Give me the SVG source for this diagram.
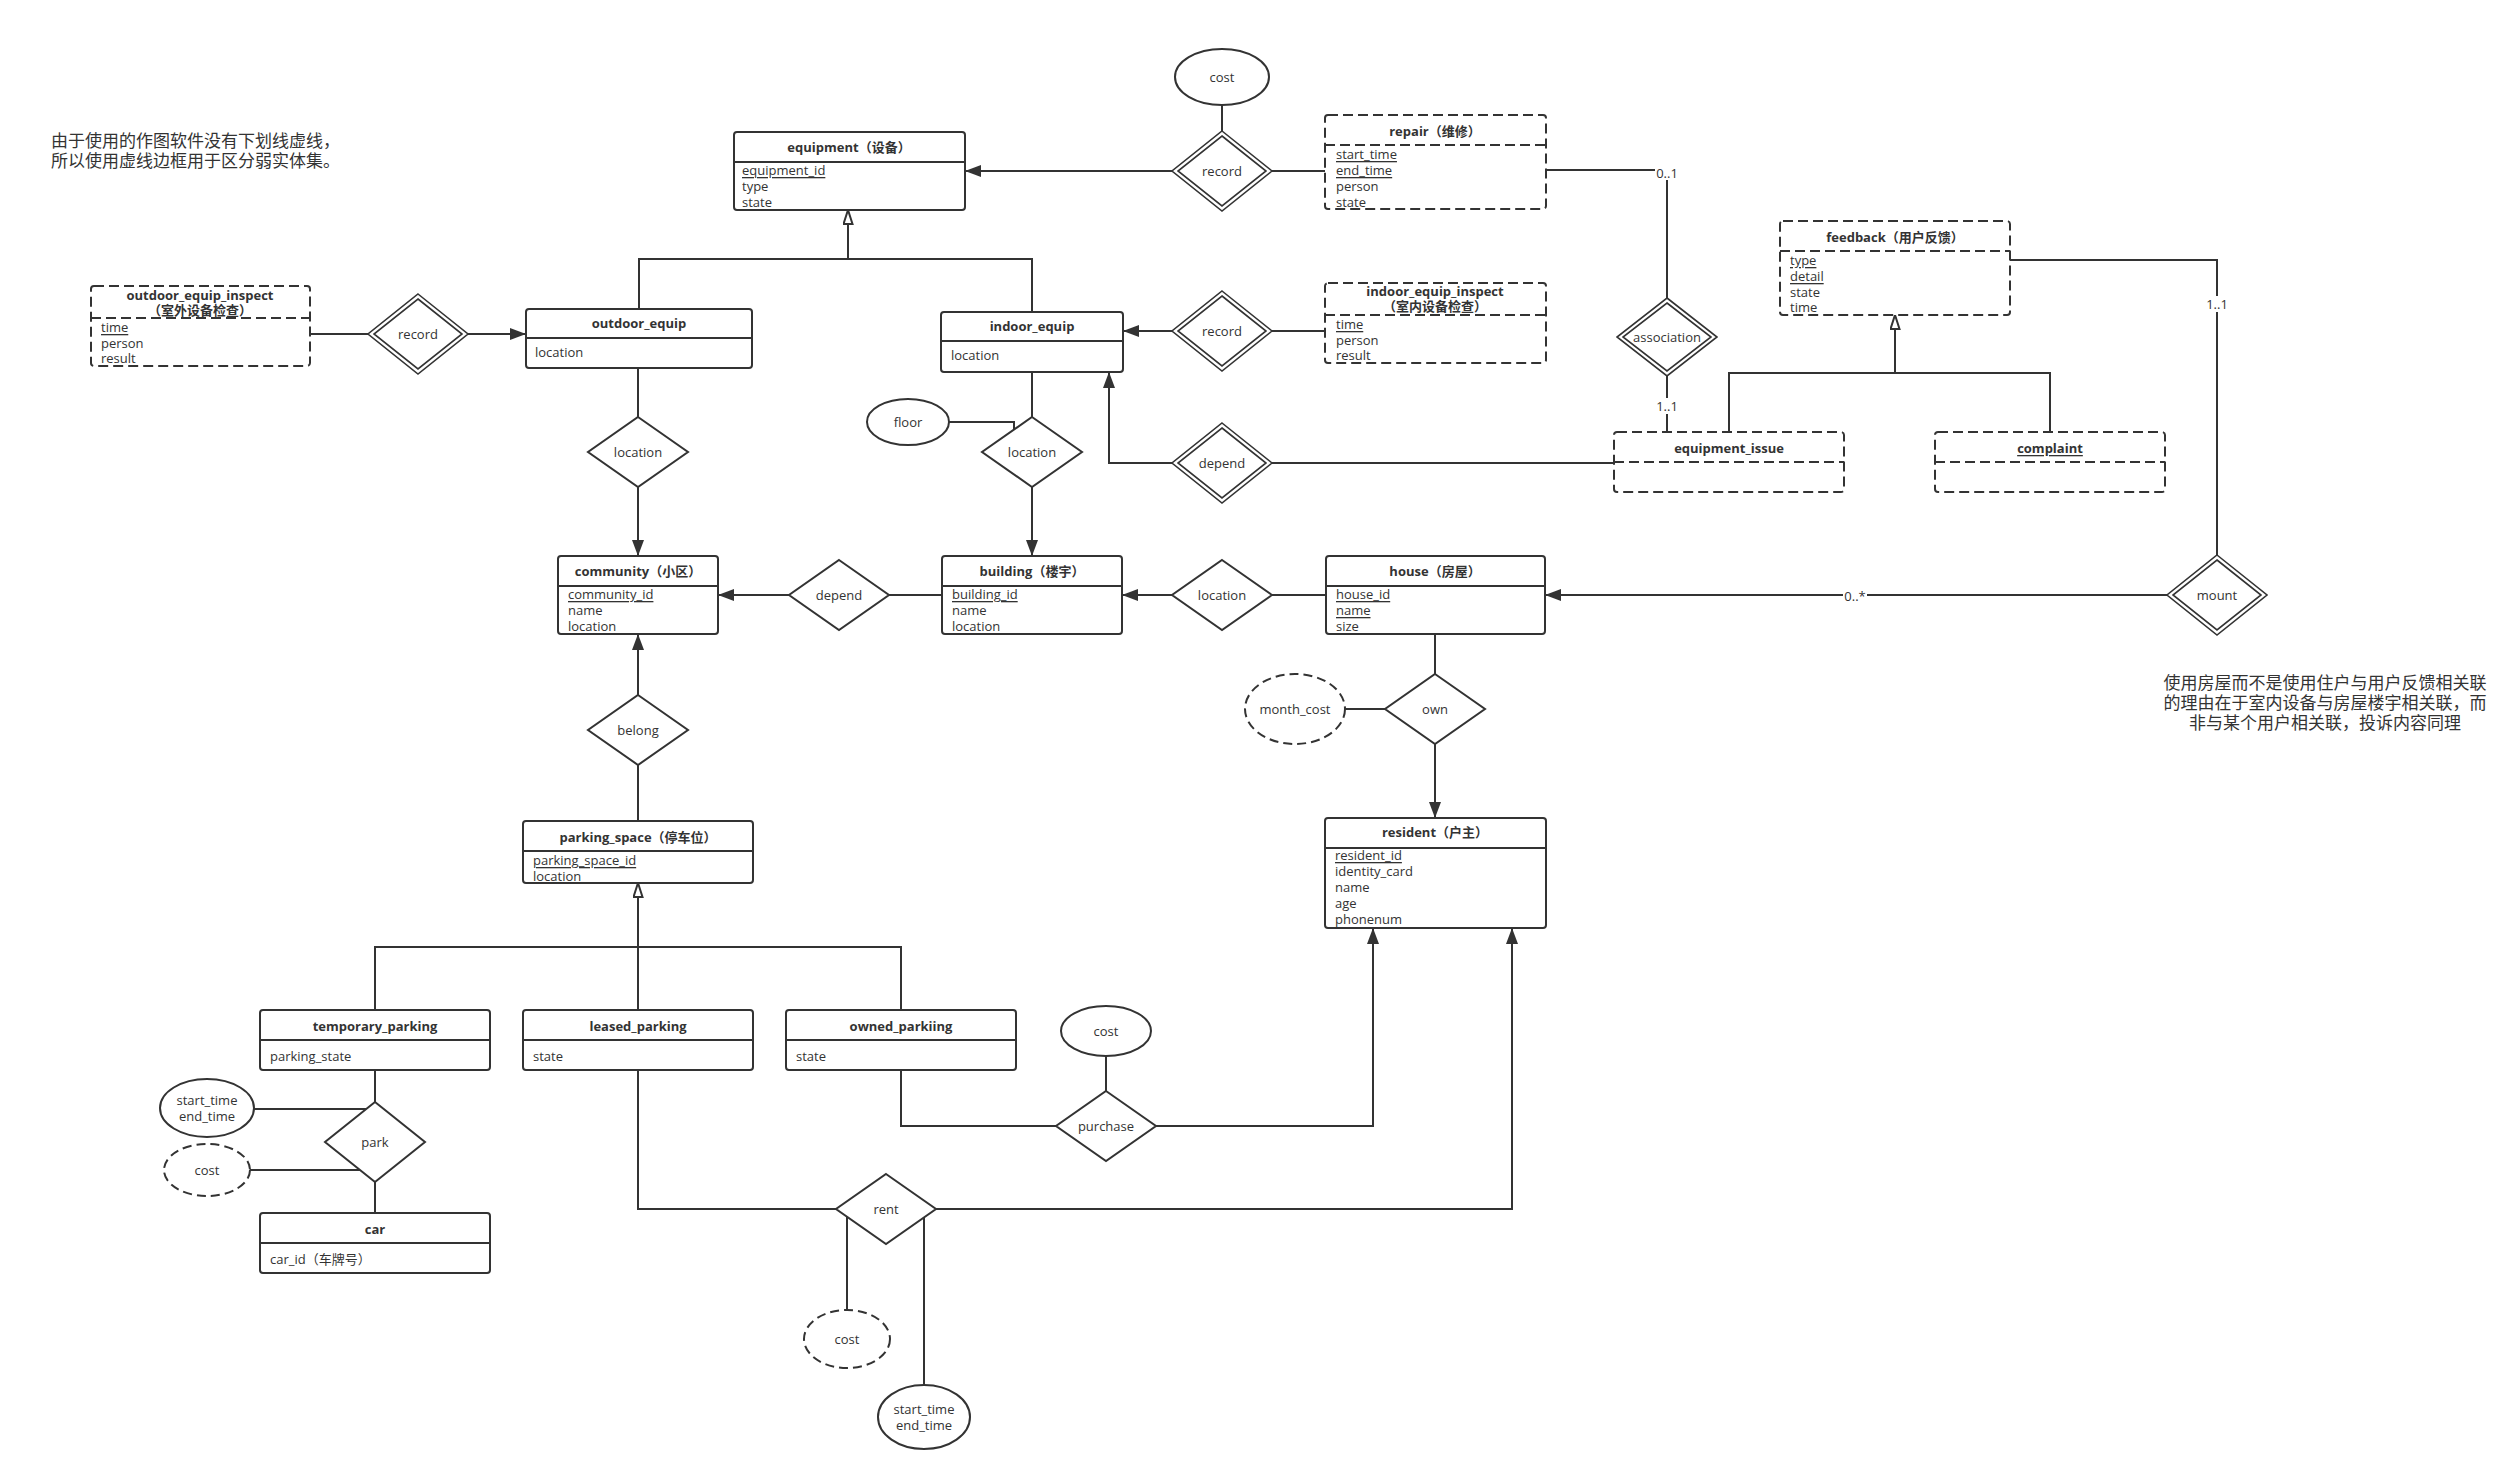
<svg xmlns="http://www.w3.org/2000/svg" width="2519" height="1482" viewBox="0 0 2519 1482">
<style>
text{font-family:"Open Sans","Noto Sans CJK SC",sans-serif;fill:#333;font-size:13px;dominant-baseline:central}
.t{font-weight:bold;text-anchor:middle}
.c{text-anchor:middle}
.u{text-decoration:underline}
.note{font-size:17px}
.note2{font-size:17px;text-anchor:middle}
.box{fill:#fff;stroke:#333;stroke-width:2}
.wbox{fill:#fff;stroke:#333;stroke-width:2;stroke-dasharray:10 5}
.div{stroke:#333;stroke-width:2}
.wdiv{stroke:#333;stroke-width:2;stroke-dasharray:10 5}
.rel{fill:#fff;stroke:#333;stroke-width:2}
.drel{fill:#fff;stroke:#333;stroke-width:1.6}
.att{fill:#fff;stroke:#333;stroke-width:2}
.datt{fill:#fff;stroke:#333;stroke-width:2;stroke-dasharray:9 5}
.ln{fill:none;stroke:#333;stroke-width:2}
.arr{marker-end:url(#fa)}
.gen{marker-end:url(#oa)}
.lbg{fill:#fff}
</style>
<defs>
<marker id="fa" markerUnits="userSpaceOnUse" markerWidth="17" markerHeight="13" refX="16" refY="6" orient="auto"><path d="M0,0 L16,6 L0,12 z" fill="#333"/></marker>
<marker id="oa" markerUnits="userSpaceOnUse" markerWidth="17" markerHeight="13" refX="15" refY="5.5" orient="auto"><path d="M1,1 L15,5.5 L1,10 z" fill="#fff" stroke="#333" stroke-width="2"/></marker>
</defs>
<rect width="2519" height="1482" fill="#fff"/>

<g id="connectors">
<polyline class="ln" points="310,334 368,334"/>
<polyline class="ln arr" points="468,334 526,334"/>
<polyline class="ln gen" points="639,309 639,259 848,259 848,210"/>
<polyline class="ln" points="1032,312 1032,259 848,259"/>
<polyline class="ln arr" points="1172,171 965,171"/>
<polyline class="ln" points="1222,105 1222,131"/>
<polyline class="ln" points="1272,171 1325,171"/>
<polyline class="ln" points="1546,170 1667,170 1667,298"/>
<polyline class="ln" points="1667,376 1667,432"/>
<polyline class="ln arr" points="1172,331 1123,331"/>
<polyline class="ln" points="1272,331 1325,331"/>
<polyline class="ln" points="1032,372 1032,417"/>
<polyline class="ln arr" points="1032,487 1032,556"/>
<polyline class="ln" points="949,422 1014,422 1014,430"/>
<polyline class="ln" points="638,368 638,417"/>
<polyline class="ln arr" points="638,487 638,556"/>
<polyline class="ln arr" points="1172,463 1109,463 1109,372"/>
<polyline class="ln" points="1272,463 1614,463"/>
<polyline class="ln" points="1729,432 1729,373 2050,373 2050,432"/>
<polyline class="ln gen" points="1895,373 1895,315"/>
<polyline class="ln" points="2217,555 2217,260 2010,260"/>
<polyline class="ln arr" points="2167,595 1545,595"/>
<polyline class="ln arr" points="1172,595 1122,595"/>
<polyline class="ln" points="1326,595 1272,595"/>
<polyline class="ln arr" points="789,595 718,595"/>
<polyline class="ln" points="942,595 889,595"/>
<polyline class="ln" points="1435,634 1435,674"/>
<polyline class="ln arr" points="1435,744 1435,818"/>
<polyline class="ln" points="1345,709 1385,709"/>
<polyline class="ln arr" points="638,695 638,634"/>
<polyline class="ln" points="638,821 638,765"/>
<polyline class="ln" points="375,1010 375,947 901,947 901,1010"/>
<polyline class="ln gen" points="638,1010 638,883"/>
<polyline class="ln" points="375,1070 375,1102"/>
<polyline class="ln" points="375,1182 375,1213"/>
<polyline class="ln" points="254,1109 366,1109"/>
<polyline class="ln" points="250,1170 360,1170"/>
<polyline class="ln" points="901,1070 901,1126 1056,1126"/>
<polyline class="ln" points="1106,1056 1106,1091"/>
<polyline class="ln arr" points="1156,1126 1373,1126 1373,928"/>
<polyline class="ln" points="638,1070 638,1209 836,1209"/>
<polyline class="ln arr" points="936,1209 1512,1209 1512,928"/>
<polyline class="ln" points="847,1217 847,1310"/>
<polyline class="ln" points="924,1217 924,1385"/>
<rect class="lbg" x="1655" y="164" width="24" height="16"/><text class="c" x="1667" y="173">0..1</text>
<rect class="lbg" x="1655" y="398" width="24" height="16"/><text class="c" x="1667" y="406">1..1</text>
<rect class="lbg" x="2205" y="296" width="24" height="16"/><text class="c" x="2217" y="304">1..1</text>
<rect class="lbg" x="1843" y="588" width="24" height="16"/><text class="c" x="1855" y="596">0..*</text>
</g>

<g id="notes">
<text class="note" x="51" y="140">由于使用的作图软件没有下划线虚线，</text>
<text class="note" x="51" y="160">所以使用虚线边框用于区分弱实体集。</text>
<text class="note2" x="2325" y="682">使用房屋而不是使用住户与用户反馈相关联</text>
<text class="note2" x="2325" y="702">的理由在于室内设备与房屋楼宇相关联，而</text>
<text class="note2" x="2325" y="722">非与某个用户相关联，投诉内容同理</text>
</g>

<g id="equipment">
<rect class="box" x="734" y="132" width="231" height="78" rx="3"/>
<line class="div" x1="734" y1="162" x2="965" y2="162"/>
<text class="t" x="849" y="147">equipment（设备）</text>
<text class="u" x="742" y="170">equipment_id</text>
<text x="742" y="186">type</text>
<text x="742" y="202">state</text>
</g>
<g id="outdoor_equip">
<rect class="box" x="526" y="309" width="226" height="59" rx="3"/>
<line class="div" x1="526" y1="338" x2="752" y2="338"/>
<text class="t" x="639" y="323">outdoor_equip</text>
<text x="535" y="352">location</text>
</g>
<g id="indoor_equip">
<rect class="box" x="941" y="312" width="182" height="60" rx="3"/>
<line class="div" x1="941" y1="341" x2="1123" y2="341"/>
<text class="t" x="1032" y="326">indoor_equip</text>
<text x="951" y="355">location</text>
</g>
<g id="community">
<rect class="box" x="558" y="556" width="160" height="78" rx="3"/>
<line class="div" x1="558" y1="586" x2="718" y2="586"/>
<text class="t" x="638" y="571">community（小区）</text>
<text class="u" x="568" y="594">community_id</text>
<text x="568" y="610">name</text>
<text x="568" y="626">location</text>
</g>
<g id="building">
<rect class="box" x="942" y="556" width="180" height="78" rx="3"/>
<line class="div" x1="942" y1="586" x2="1122" y2="586"/>
<text class="t" x="1032" y="571">building（楼宇）</text>
<text class="u" x="952" y="594">building_id</text>
<text x="952" y="610">name</text>
<text x="952" y="626">location</text>
</g>
<g id="house">
<rect class="box" x="1326" y="556" width="219" height="78" rx="3"/>
<line class="div" x1="1326" y1="586" x2="1545" y2="586"/>
<text class="t" x="1435" y="571">house（房屋）</text>
<text class="u" x="1336" y="594">house_id</text>
<text class="u" x="1336" y="610">name</text>
<text class="u" x="1336" y="626">size</text>
</g>
<g id="resident">
<rect class="box" x="1325" y="818" width="221" height="110" rx="3"/>
<line class="div" x1="1325" y1="848" x2="1546" y2="848"/>
<text class="t" x="1435" y="832">resident（户主）</text>
<text class="u" x="1335" y="855">resident_id</text>
<text x="1335" y="871">identity_card</text>
<text x="1335" y="887">name</text>
<text x="1335" y="903">age</text>
<text x="1335" y="919">phonenum</text>
</g>
<g id="parking_space">
<rect class="box" x="523" y="821" width="230" height="62" rx="3"/>
<line class="div" x1="523" y1="851" x2="753" y2="851"/>
<text class="t" x="638" y="837">parking_space（停车位）</text>
<text class="u" x="533" y="860">parking_space_id</text>
<text x="533" y="876">location</text>
</g>
<g id="temporary_parking">
<rect class="box" x="260" y="1010" width="230" height="60" rx="3"/>
<line class="div" x1="260" y1="1040" x2="490" y2="1040"/>
<text class="t" x="375" y="1026">temporary_parking</text>
<text x="270" y="1056">parking_state</text>
</g>
<g id="leased_parking">
<rect class="box" x="523" y="1010" width="230" height="60" rx="3"/>
<line class="div" x1="523" y1="1040" x2="753" y2="1040"/>
<text class="t" x="638" y="1026">leased_parking</text>
<text x="533" y="1056">state</text>
</g>
<g id="owned_parkiing">
<rect class="box" x="786" y="1010" width="230" height="60" rx="3"/>
<line class="div" x1="786" y1="1040" x2="1016" y2="1040"/>
<text class="t" x="901" y="1026">owned_parkiing</text>
<text x="796" y="1056">state</text>
</g>
<g id="car">
<rect class="box" x="260" y="1213" width="230" height="60" rx="3"/>
<line class="div" x1="260" y1="1243" x2="490" y2="1243"/>
<text class="t" x="375" y="1229">car</text>
<text x="270" y="1259">car_id（车牌号）</text>
</g>

<g id="outdoor_equip_inspect">
<rect class="wbox" x="91" y="286" width="219" height="80" rx="3"/>
<line class="wdiv" x1="91" y1="318" x2="310" y2="318"/>
<text class="t" x="200" y="295">outdoor_equip_inspect</text>
<text class="t" x="200" y="310">（室外设备检查）</text>
<text class="u" x="101" y="327">time</text>
<text x="101" y="343">person</text>
<text x="101" y="358">result</text>
</g>
<g id="repair">
<rect class="wbox" x="1325" y="115" width="221" height="94" rx="3"/>
<line class="wdiv" x1="1325" y1="145" x2="1546" y2="145"/>
<text class="t" x="1435" y="131">repair（维修）</text>
<text class="u" x="1336" y="154">start_time</text>
<text class="u" x="1336" y="170">end_time</text>
<text x="1336" y="186">person</text>
<text x="1336" y="202">state</text>
</g>
<g id="indoor_equip_inspect">
<rect class="wbox" x="1325" y="283" width="221" height="80" rx="3"/>
<line class="wdiv" x1="1325" y1="315" x2="1546" y2="315"/>
<text class="t" x="1435" y="291">indoor_equip_inspect</text>
<text class="t" x="1435" y="306">（室内设备检查）</text>
<text class="u" x="1336" y="324">time</text>
<text x="1336" y="340">person</text>
<text x="1336" y="355">result</text>
</g>
<g id="feedback">
<rect class="wbox" x="1780" y="221" width="230" height="94" rx="3"/>
<line class="wdiv" x1="1780" y1="251" x2="2010" y2="251"/>
<text class="t" x="1895" y="237">feedback（用户反馈）</text>
<text class="u" x="1790" y="260">type</text>
<text class="u" x="1790" y="276">detail</text>
<text x="1790" y="292">state</text>
<text x="1790" y="307">time</text>
</g>
<g id="equipment_issue">
<rect class="wbox" x="1614" y="432" width="230" height="60" rx="3"/>
<line class="wdiv" x1="1614" y1="462" x2="1844" y2="462"/>
<text class="t" x="1729" y="448">equipment_issue</text>
</g>
<g id="complaint">
<rect class="wbox" x="1935" y="432" width="230" height="60" rx="3"/>
<line class="wdiv" x1="1935" y1="462" x2="2165" y2="462"/>
<text class="t u" x="2050" y="448">complaint</text>
</g>

<g id="record_outdoor">
<polygon class="drel" points="418,294 468,334 418,374 368,334"/>
<polygon class="drel" points="418,299 462,334 418,369 374,334"/>
<text class="c" x="418" y="334">record</text>
</g>
<g id="record_repair">
<polygon class="drel" points="1222,131 1272,171 1222,211 1172,171"/>
<polygon class="drel" points="1222,136 1266,171 1222,206 1178,171"/>
<text class="c" x="1222" y="171">record</text>
</g>
<g id="record_indoor">
<polygon class="drel" points="1222,291 1272,331 1222,371 1172,331"/>
<polygon class="drel" points="1222,296 1266,331 1222,366 1178,331"/>
<text class="c" x="1222" y="331">record</text>
</g>
<g id="depend_issue">
<polygon class="drel" points="1222,423 1272,463 1222,503 1172,463"/>
<polygon class="drel" points="1222,428 1266,463 1222,498 1178,463"/>
<text class="c" x="1222" y="463">depend</text>
</g>
<g id="association">
<polygon class="drel" points="1667,298 1717,337 1667,376 1617,337"/>
<polygon class="drel" points="1667,303 1711,337 1667,371 1623,337"/>
<text class="c" x="1667" y="337">association</text>
</g>
<g id="mount">
<polygon class="drel" points="2217,555 2267,595 2217,635 2167,595"/>
<polygon class="drel" points="2217,560 2261,595 2217,630 2173,595"/>
<text class="c" x="2217" y="595">mount</text>
</g>
<g id="location_outdoor">
<polygon class="rel" points="638,417 688,452 638,487 588,452"/>
<text class="c" x="638" y="452">location</text>
</g>
<g id="location_indoor">
<polygon class="rel" points="1032,417 1082,452 1032,487 982,452"/>
<text class="c" x="1032" y="452">location</text>
</g>
<g id="depend_building">
<polygon class="rel" points="839,560 889,595 839,630 789,595"/>
<text class="c" x="839" y="595">depend</text>
</g>
<g id="location_house">
<polygon class="rel" points="1222,560 1272,595 1222,630 1172,595"/>
<text class="c" x="1222" y="595">location</text>
</g>
<g id="own">
<polygon class="rel" points="1435,674 1485,709 1435,744 1385,709"/>
<text class="c" x="1435" y="709">own</text>
</g>
<g id="belong">
<polygon class="rel" points="638,695 688,730 638,765 588,730"/>
<text class="c" x="638" y="730">belong</text>
</g>
<g id="park">
<polygon class="rel" points="375,1102 425,1142 375,1182 325,1142"/>
<text class="c" x="375" y="1142">park</text>
</g>
<g id="purchase">
<polygon class="rel" points="1106,1091 1156,1126 1106,1161 1056,1126"/>
<text class="c" x="1106" y="1126">purchase</text>
</g>
<g id="rent">
<polygon class="rel" points="886,1174 936,1209 886,1244 836,1209"/>
<text class="c" x="886" y="1209">rent</text>
</g>

<g id="cost_repair">
<ellipse class="att" cx="1222" cy="77" rx="47" ry="28"/>
<text class="c" x="1222" y="77">cost</text>
</g>
<g id="floor">
<ellipse class="att" cx="908" cy="422" rx="41" ry="23"/>
<text class="c" x="908" y="422">floor</text>
</g>
<g id="month_cost">
<ellipse class="datt" cx="1295" cy="709" rx="50" ry="35"/>
<text class="c" x="1295" y="709">month_cost</text>
</g>
<g id="time_park">
<ellipse class="att" cx="207" cy="1108" rx="47" ry="29"/>
<text class="c" x="207" y="1100">start_time</text>
<text class="c" x="207" y="1116">end_time</text>
</g>
<g id="cost_park">
<ellipse class="datt" cx="207" cy="1170" rx="43" ry="26"/>
<text class="c" x="207" y="1170">cost</text>
</g>
<g id="cost_purchase">
<ellipse class="att" cx="1106" cy="1031" rx="45" ry="25"/>
<text class="c" x="1106" y="1031">cost</text>
</g>
<g id="cost_rent">
<ellipse class="datt" cx="847" cy="1339" rx="43" ry="29"/>
<text class="c" x="847" y="1339">cost</text>
</g>
<g id="time_rent">
<ellipse class="att" cx="924" cy="1417" rx="46" ry="32"/>
<text class="c" x="924" y="1409">start_time</text>
<text class="c" x="924" y="1425">end_time</text>
</g>
</svg>
